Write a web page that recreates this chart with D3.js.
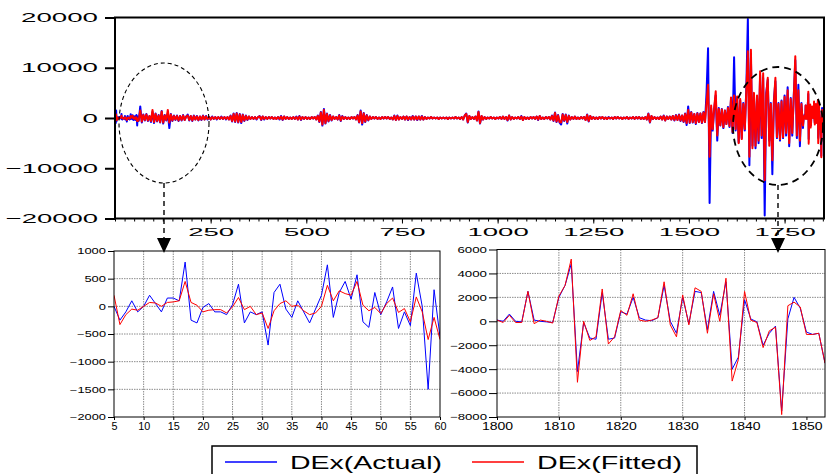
<!DOCTYPE html>
<html>
<head>
<meta charset="utf-8">
<script src="https://cdn.jsdelivr.net/npm/d3@7"></script>
<style>
  html, body { margin: 0; padding: 0; background: #fff; }
  svg { display: block; font-family: "Liberation Sans", Arial, sans-serif; }
</style>
</head>
<body>
<svg id="chart" width="826" height="474"></svg>
<script>
// ---- data -----------------------------------------------------------------

// first observations before the zoomed-in window
const leadIndex = [1, 2, 3, 4];
const leadActual = [1200, -1000, 1500, -600];
const leadFitted = [600, -500, 700, -300];

// observations 5..60 (lower left panel)
const earlyIndex = d3.range(5, 61);
const earlyActual = [
    0, -250, -100, 100, -100, 0, 200, 50, -100, 150,
    150, 100, 800, -250, -300, -20, 50, -100, -100, -150,
    30, 400, -300, -100, -150, -100, -700, 250, 400, -50,
    -200, 100, -100, -300, -50, 200, 750, -200, 250, 450,
    130, 570, -280, -380, 250, -150, 80, 350, -400, -100,
    -350, 600, 0, -1500, 300, -550
];
const earlyFitted = [
    200, -330, -150, -50, -70, 0, 70, 60, 0, 70,
    80, 100, 450, 70, 20, -100, -70, -60, -60, -120,
    -10, 160, -60, 0, -150, -120, -400, -80, 50, 100,
    0, 20, -80, -150, -120, 0, 380, 100, 280, 230,
    200, 450, 20, -80, -20, -130, 50, 150, -110, -40,
    -280, 170, -100, -600, -200, -600
];

const coarseStart = 62;
const coarseStep = 4;
const coarseActualHundreds = [
    -6, 23, -9, 7, -5, 8, -6, 4, -8, 12, -10, 9, -7, 6, -9, 14, -11, 6, -5, 9, -20, 8, -6, 5, -4,
    5, -6, 4, -5, 6, -4, 3, 7, -5, 4, -6, 5, -3, 4, -5, 3, -4, 5, -3, 4, -3, 2, -3, 3, -2,
    2, -3, 2, -2, 3, -2, 2, -3, 2, -3, 5, -7, 9, -8, 10, -9, 8, -10, 7, -6, 5, -4, 3, -2, 2,
    -2, 2, -3, 2, 4, -4, 3, -3, 2, -2, 2, -1, 2, -2, 1, -2, 2, -3, 4, -4, 3, -2, 2, -2, 1,
    -2, 2, -2, 3, -3, 4, -4, 2, -2, 2, -2, 1, -2, 2, -1, 2, -3, 5, -8, 12, -15, 18, -11, 9, -7,
    6, -5, 3, -2, 2, -3, 6, -6, 4, -2, 2, -2, 1, -2, 2, -1, 2, -3, 6, -9, 15, -13, 10, -8, 6,
    -5, 3, -2, 2, -1, 2, -2, 1, -2, 2, -1, 2, -1, 2, -2, 1, -3, 5, -4, 5, -3, 2, -2, 3, -3,
    3, -4, 2, -3, 4, -3, 3, -4, 3, -3, 4, -3, 2, -2, 1, -1, 2, -1, 1, -1, 1, -2, 1, -1, 1,
    -1, 1, -2, 1, -1, 1, -1, 2, -1, 1, -2, 2, -3, 5, 9, -9, 4, -2, 2, -2, 3, -5, 13, -11, 4,
    -3, 2, -2, 1, -1, 2, -1, 1, -2, 1, -1, 2, -2, 3, -2, 2, -5, 5, -3, 2, -2, 1, -1, 2, -2,
    4, -4, 2, -2, 1, -2, 2, -1, 2, -2, 3, -4, 4, -2, 1, -2, 2, -1, 2, -3, 5, -6, 11, -8, 6,
    -9, -13, 8, -6, 7, -11, 5, -3, 2, -2, 3, -2, 1, -2, 2, -1, 2, -4, 7, -7, 4, -2, 2, -2, 1,
    -2, 2, -1, 2, -2, 1, -2, 2, -1, 1, -2, 2, -1, 2, -1, 1, -2, 1, -1, 2, -2, 1, -1, 2, -2,
    2, -1, 2, -2, 1, -2, 2, -3, 9, -9, 4, -2, 2, -2, 1, -2, 3, -3, 5, -5, 3, -2, 3, -3, 4,
    -5, 6, -4, 7, -6, 5, -8, 9, -14, 23, -10, 12, -9, 8, -12, 10, -8, 9, -10, 12, -8, 50, 139, -169, 20,
    -25, 18, 45, -45, 20, -15, 18, -20, 15, -12, 22, -18, 38, -30, 121, -25, 40, -48, 35, -40, 30, -25, 60, 197, -94,
    120, -55, 45, -60, 40, -50, 85, -40, 80, -194, 50, 76, -45, 30, -112, 35, 73, -40, 30, -45, 35, -40, 45, -35, 61,
    -56, 40, -35, 45, 115, -40, 66, -56, 30, -20
];
const coarseFittedHundreds = [
    -4, 15, -7, 6, -4, 7, -5, 4, -6, 16, -8, 8, -6, 5, -8, 13, -9, 5, -4, 16, -9, 7, -5, 4, -3,
    4, -5, 4, -4, 5, -4, 3, 5, -4, 4, -5, 4, -3, 3, -4, 3, -3, 4, -3, 3, -2, 2, -3, 2, -2,
    2, -2, 2, -2, 2, -2, 2, -2, 2, -3, 4, -6, 8, -7, 9, -8, 7, -8, 6, -5, 4, -3, 3, -2, 2,
    -2, 2, -2, 2, 3, -3, 3, -2, 2, -2, 2, -1, 2, -2, 1, -2, 2, -2, 3, -3, 3, -2, 2, -2, 1,
    -2, 2, -2, 2, -3, 3, -3, 2, -2, 2, -2, 1, -2, 2, -1, 2, -3, 4, -7, 11, -13, 16, -10, 8, -6,
    5, -4, 3, -2, 2, -3, 5, -5, 3, -2, 2, -2, 1, -2, 2, -1, 2, -3, 5, -8, 13, -10, 9, -7, 5,
    -4, 3, -2, 2, -1, 2, -2, 1, -2, 2, -1, 2, -1, 2, -2, 1, -3, 4, -4, 4, -3, 2, -2, 3, -3,
    3, -3, 2, -3, 3, -3, 3, -3, 3, -3, 3, -3, 2, -2, 1, -1, 2, -1, 1, -1, 1, -2, 1, -1, 1,
    -1, 1, -2, 1, -1, 1, -1, 2, -1, 1, -2, 2, -3, 5, 8, -8, 4, -2, 2, -2, 3, -5, 12, -10, 4,
    -3, 2, -2, 1, -1, 2, -1, 1, -2, 1, -1, 2, -2, 3, -2, 2, -4, 5, -3, 2, -2, 1, -1, 2, -2,
    3, -4, 2, -2, 1, -2, 2, -1, 2, -2, 3, -3, 4, -2, 1, -2, 2, -1, 2, -3, 4, -5, 10, -7, 5,
    -8, -9, 7, -5, 6, -8, 4, -3, 2, -2, 3, -2, 1, -2, 2, -1, 2, -4, 6, -6, 4, -2, 2, -2, 1,
    -2, 2, -1, 2, -2, 1, -2, 1, -1, 1, -2, 2, -1, 2, -1, 1, -2, 1, -1, 2, -2, 1, -1, 2, -2,
    2, -1, 2, -2, 1, -2, 2, -3, 8, -8, 4, -2, 2, -2, 1, -2, 3, -3, 4, -5, 3, -2, 3, -3, 4,
    -4, 5, -4, 6, -5, 5, -7, 8, -10, 16, -9, 11, -8, 8, -10, 9, -8, 9, -9, 11, -8, 30, 66, -77, 25,
    -22, 20, 53, -35, 18, -14, 17, -18, 15, -12, 20, -16, 41, -28, 45, -22, 43, -50, 38, -42, 28, -22, 55, 133, -77,
    136, -60, 50, -55, 45, -45, 93, -35, 89, -124, 45, 80, -55, 28, -84, 30, 80, -38, 28, -42, 33, -38, 42, -30, 55,
    -50, 38, -30, 40, 123, -35, 55, -45, 28, -15
];

// observations 1800..1853 (lower right panel)
const lateIndex = d3.range(1800, 1854);
const lateActual = [
    100, 0, 600, 0, -50, 2500, 100, 0, -50, -100,
    2000, 3000, 4800, -4200, -100, -1400, -1500, 2400, -1500, -1400,
    800, 600, 2000, 300, 100, 50, 300, 3000, 0, -1000,
    2000, -200, 2500, 2400, -700, 2500, 500, 3300, -4000, -3000,
    1800, 200, -50, -2000, -1000, -400, -7500, 200, 2000, 1100,
    -900, -1100, -1000, -3500
];
const lateFitted = [
    100, -100, 500, -100, -100, 2500, -200, 100, 0, -150,
    2100, 3000, 5200, -5100, 0, -1600, -1300, 2700, -1900, -1300,
    900, 500, 2300, 100, 0, 100, 300, 3300, -300, -1300,
    2200, -300, 2800, 2500, -1000, 2300, 0, 3600, -5000, -3200,
    2500, 100, -100, -2200, -800, -500, -7800, 1300, 1600, 1200,
    -1100, -1100, -1000, -3500
];

const mainYTicks = [-20000, -10000, 0, 10000, 20000];
const mainXTicks = [250, 500, 750, 1000, 1250, 1500, 1750];
const earlyYTicks = [-2000, -1500, -1000, -500, 0, 500, 1000];
const earlyXTicks = [5, 10, 15, 20, 25, 30, 35, 40, 45, 50, 55, 60];
const lateYTicks = [-8000, -6000, -4000, -2000, 0, 2000, 4000, 6000];
const lateXTicks = [1800, 1810, 1820, 1830, 1840, 1850];
const legendLabels = ['DEx(Actual)', 'DEx(Fitted)'];

// ---- drawing --------------------------------------------------------------

const ACTUAL_COLOR = '#0000ff';
const FITTED_COLOR = '#ff0000';
const svg = d3.select('#chart');

const toPoints = (idx, vals) => idx.map((x, i) => ({ x, y: vals[i] }));
const coarseIndex = coarseActualHundreds.map((_, i) => coarseStart + i * coarseStep);

const mainActual = [
    ...toPoints(leadIndex, leadActual),
    ...toPoints(earlyIndex, earlyActual),
    ...toPoints(coarseIndex, coarseActualHundreds.map(v => v * 100)),
    ...toPoints(lateIndex, lateActual)
];
const mainFitted = [
    ...toPoints(leadIndex, leadFitted),
    ...toPoints(earlyIndex, earlyFitted),
    ...toPoints(coarseIndex, coarseFittedHundreds.map(v => v * 100)),
    ...toPoints(lateIndex, lateFitted)
];

// stretched tick text, width per glyph
function stretch(sel, digitW, minusW) {
    sel.attr('textLength', function () {
        const s = this.textContent;
        return s.replace('-', '').length * digitW + (s.startsWith('-') ? minusW : 0);
    }).attr('lengthAdjust', 'spacingAndGlyphs');
}

/**
 * Draws one framed panel with both series
 */
function drawPanel(cfg) {
    const x = d3.scaleLinear().domain(cfg.xDomain).range([cfg.left, cfg.right]);
    const y = d3.scaleLinear().domain(cfg.yDomain).range([cfg.bottom, cfg.top]);
    const g = svg.append('g');

    const clipId = 'clip-' + cfg.name;
    svg.append('clipPath').attr('id', clipId)
        .append('rect')
        .attr('x', cfg.left).attr('y', cfg.top)
        .attr('width', cfg.right - cfg.left).attr('height', cfg.bottom - cfg.top);

    if (cfg.grid) {
        g.selectAll('.gx').data(cfg.xTicks.slice(1, -1)).enter().append('line')
            .attr('x1', d => x(d)).attr('x2', d => x(d))
            .attr('y1', cfg.top).attr('y2', cfg.bottom)
            .attr('stroke', '#8c8c8c').attr('stroke-dasharray', '1.5,1');
        g.selectAll('.gy').data(cfg.yTicks.slice(1, -1)).enter().append('line')
            .attr('x1', cfg.left).attr('x2', cfg.right)
            .attr('y1', d => y(d)).attr('y2', d => y(d))
            .attr('stroke', '#8c8c8c').attr('stroke-dasharray', '1.5,1');
    }

    const line = d3.line().x(d => x(d.x)).y(d => y(d.y));
    const lines = g.append('g').attr('clip-path', `url(#${clipId})`);
    lines.append('path').datum(cfg.actual)
        .attr('d', line).attr('fill', 'none')
        .attr('stroke', ACTUAL_COLOR).attr('stroke-width', cfg.lineWidth)
        .attr('stroke-linejoin', 'round');
    lines.append('path').datum(cfg.fitted)
        .attr('d', line).attr('fill', 'none')
        .attr('stroke', FITTED_COLOR).attr('stroke-width', cfg.lineWidth)
        .attr('stroke-linejoin', 'round');

    g.append('rect')
        .attr('x', cfg.left).attr('y', cfg.top)
        .attr('width', cfg.right - cfg.left).attr('height', cfg.bottom - cfg.top)
        .attr('fill', 'none').attr('stroke', '#000').attr('stroke-width', cfg.frameWidth);

    // y axis
    const yAxis = g.append('g')
        .attr('transform', `translate(${cfg.left},0)`)
        .call(d3.axisLeft(y).tickValues(cfg.yTicks).tickSize(cfg.yTickSize)
            .tickPadding(cfg.yPad).tickFormat(d3.format('d')));
    yAxis.select('.domain').remove();
    yAxis.selectAll('line').attr('stroke', '#000').attr('stroke-width', cfg.frameWidth);
    yAxis.selectAll('text')
        .attr('font-size', cfg.yFont).attr('fill', '#000')
        .attr('font-family', null)
        .call(stretch, cfg.yDigitW, cfg.yMinusW);

    // x axis minor ticks
    if (cfg.xMinor) {
        const minor = g.append('g')
            .attr('transform', `translate(0,${cfg.bottom})`)
            .call(d3.axisBottom(x).tickValues(cfg.xMinor).tickSize(cfg.xMinorSize).tickFormat(''));
        minor.select('.domain').remove();
        minor.selectAll('line').attr('stroke', '#000').attr('stroke-width', 1);
    }
    const xAxis = g.append('g')
        .attr('transform', `translate(0,${cfg.bottom})`)
        .call(d3.axisBottom(x).tickValues(cfg.xTicks).tickSize(cfg.xTickSize)
            .tickPadding(cfg.xPad).tickFormat(d3.format('d')));
    xAxis.select('.domain').remove();
    xAxis.selectAll('line').attr('stroke', '#000').attr('stroke-width', 1);
    xAxis.selectAll('text')
        .attr('font-size', cfg.xFont).attr('fill', '#000')
        .attr('font-family', null)
        .call(stretch, cfg.xDigitW, 0);
    return { x, y };
}

drawPanel({
    name: 'main', left: 115, right: 824, top: 17.5, bottom: 218.5,
    xDomain: [0, 1853], yDomain: [-20000, 20000],
    xTicks: mainXTicks, yTicks: mainYTicks,
    xMinor: d3.range(0, 1851, 25), xMinorSize: 3,
    actual: mainActual, fitted: mainFitted,
    lineWidth: 2, frameWidth: 2, grid: false,
    yTickSize: 10, yPad: 7, yFont: 13, yDigitW: 15.4, yMinusW: 12,
    xTickSize: 5, xPad: 4, xFont: 11.5, xDigitW: 15.3
});

drawPanel({
    name: 'early', left: 114, right: 440, top: 251, bottom: 417,
    xDomain: [5, 60], yDomain: [-2000, 1000],
    xTicks: earlyXTicks, yTicks: earlyYTicks,
    actual: toPoints(earlyIndex, earlyActual), fitted: toPoints(earlyIndex, earlyFitted),
    lineWidth: 1, frameWidth: 1, grid: true,
    yTickSize: 6, yPad: 2, yFont: 8.5, yDigitW: 7.2, yMinusW: 5,
    xTickSize: 3, xPad: 3, xFont: 10, xDigitW: 6
});

drawPanel({
    name: 'late', left: 497, right: 825, top: 249.5, bottom: 417,
    xDomain: [1800, 1853], yDomain: [-8000, 6000],
    xTicks: lateXTicks, yTicks: lateYTicks,
    actual: toPoints(lateIndex, lateActual), fitted: toPoints(lateIndex, lateFitted),
    lineWidth: 1, frameWidth: 1, grid: true,
    yTickSize: 8, yPad: 2, yFont: 9, yDigitW: 7.4, yMinusW: 5,
    xTickSize: 3, xPad: 3, xFont: 10, xDigitW: 7.8
});

// callouts: dashed ellipses with arrows down to the zoom panels
const callouts = [
    { cx: 164, cy: 123, rx: 45, ry: 60, width: 1.1, dash: '4,3', arrowTop: 238 },
    { cx: 778, cy: 126, rx: 45, ry: 59, width: 1.8, dash: '7,5', arrowTop: 238 }
];
callouts.forEach(c => {
    svg.append('ellipse')
        .attr('cx', c.cx).attr('cy', c.cy).attr('rx', c.rx).attr('ry', c.ry)
        .attr('fill', 'none').attr('stroke', '#000')
        .attr('stroke-width', c.width).attr('stroke-dasharray', c.dash);
    svg.append('line')
        .attr('x1', c.cx).attr('x2', c.cx)
        .attr('y1', c.cy + c.ry).attr('y2', c.arrowTop)
        .attr('stroke', '#000').attr('stroke-width', 1.4).attr('stroke-dasharray', '5,4');
    svg.append('path')
        .attr('d', `M${c.cx - 7},${c.arrowTop} L${c.cx + 7},${c.arrowTop} L${c.cx},${c.arrowTop + 15} Z`)
        .attr('fill', '#000');
});

// legend
const legend = svg.append('g');
legend.append('rect')
    .attr('x', 212).attr('y', 446).attr('width', 485).attr('height', 40)
    .attr('fill', '#fff').attr('stroke', '#000').attr('stroke-width', 1.5);
const legendItems = [
    { label: legendLabels[0], color: ACTUAL_COLOR, x: 225, width: 152 },
    { label: legendLabels[1], color: FITTED_COLOR, x: 472, width: 145 }
];
legendItems.forEach(item => {
    legend.append('line')
        .attr('x1', item.x).attr('x2', item.x + 52)
        .attr('y1', 462).attr('y2', 462)
        .attr('stroke', item.color).attr('stroke-width', 1.5);
    legend.append('text')
        .attr('x', item.x + 65).attr('y', 469)
        .attr('font-size', 18.5)
        .attr('textLength', item.width).attr('lengthAdjust', 'spacingAndGlyphs')
        .text(item.label);
});
</script>
</body>
</html>
